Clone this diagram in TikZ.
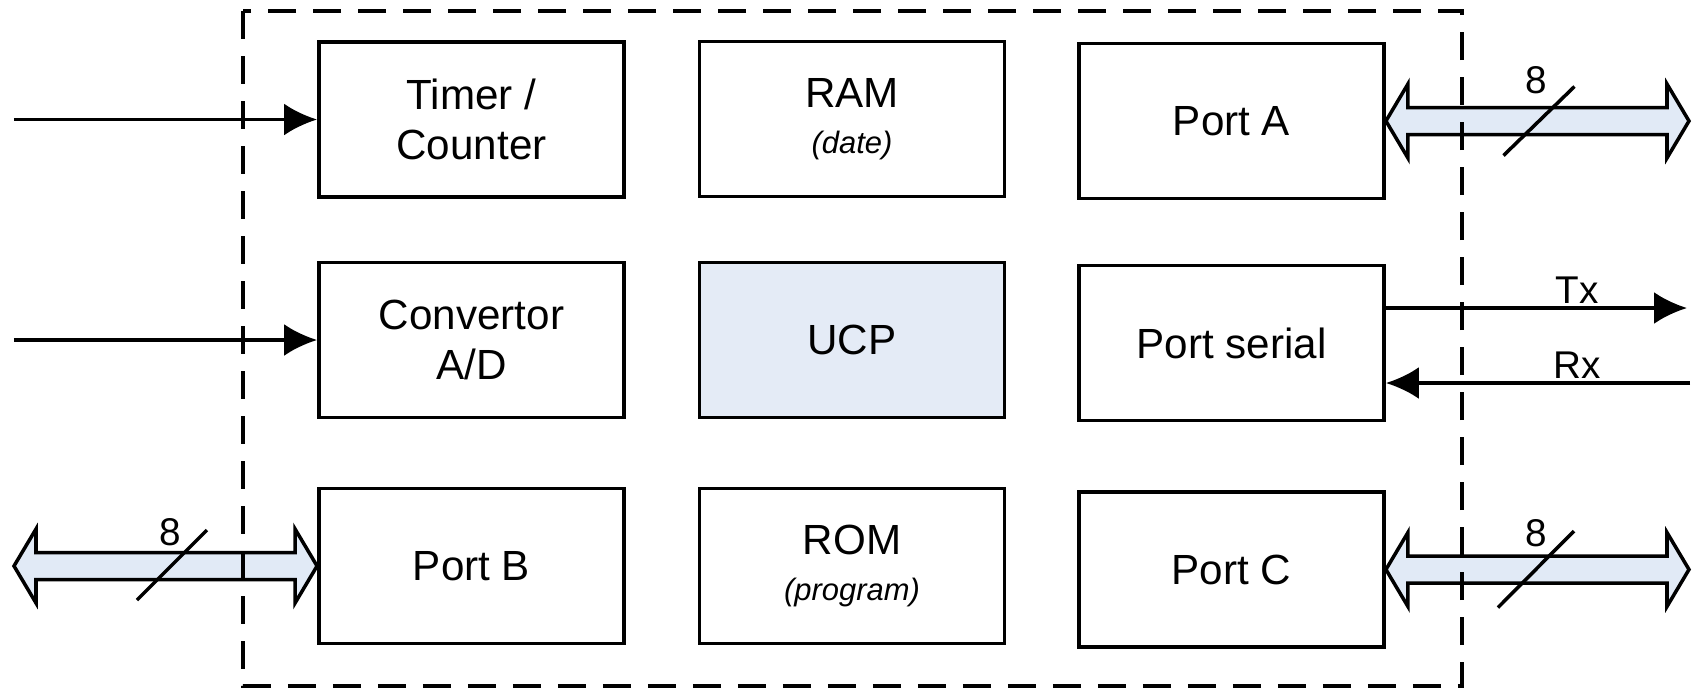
\documentclass[tikz,border=0pt]{standalone}
\usepackage{fontspec}
\setmainfont{Liberation Sans}
\usetikzlibrary{calc,arrows.meta}
\definecolor{ucpblue}{RGB}{228,235,246}
\definecolor{busblue}{RGB}{225,234,246}
\newcommand{\subtxt}{\fontsize{8.8}{10}\selectfont\itshape}
% hollow double bus arrow between two points on one row
\newcommand{\busarrow}[2]{%
  \draw[bus] (#1) -- ++(0.22,0.37) -- ++(0,-0.235) -- ($(#2)+(-0.22,0.135)$)
    -- ++(0,0.235) -- (#2) -- ++(-0.22,-0.37) -- ++(0,0.235)
    -- ($(#1)+(0.22,-0.135)$) -- ++(0,-0.235) -- cycle;}
\tikzset{
  block/.style={rectangle, align=center, draw, line width=1.1pt, minimum width=3.05cm,
    minimum height=1.55cm, inner sep=0pt, font=\fontsize{12}{14.2}\selectfont},
  bus/.style={draw, line width=1pt, fill=busblue, line join=miter},
  wire/.style={->, line width=1pt},
  slash/.style={line width=1pt},
  lbl/.style={font=\fontsize{11}{12}\selectfont, inner sep=0pt}
}
\begin{document}
\begin{tikzpicture}[>={Latex[length=3.3mm,width=3.2mm]}]
\useasboundingbox (0,0) rectangle (16.96,-6.89);
%Nodes:
\node[block] (timer) at (4.715,-1.195) {Timer /\\Counter};
\node[block] (ram) at (8.52,-1.19) {RAM\\[-1pt]{\subtxt (date)}};
\node[block] (porta) at (12.315,-1.21) {Port A};
\node[block] (conv) at (4.715,-3.40) {Convertor\\A/D};
\node[block, fill=ucpblue] (ucp) at (8.52,-3.40) {UCP};
\node[block] (serial) at (12.315,-3.43) {Port serial};
\node[block] (portb) at (4.715,-5.66) {Port B};
\node[block] (rom) at (8.52,-5.66) {ROM\\[-1pt]{\subtxt (program)}};
\node[block] (portc) at (12.315,-5.695) {Port C};
%Free ends:
\coordinate (tin) at (0.14,-1.195);
\coordinate (cin) at (0.14,-3.40);
\coordinate (pa) at (16.89,-1.21);
\coordinate (pb) at (0.14,-5.66);
\coordinate (pc) at (16.89,-5.695);
\coordinate (tx) at (16.87,-3.08);
\coordinate (rx) at (16.90,-3.83);
%Edges:
\draw[wire] (tin) -- (timer.west);
\draw[wire] (cin) -- (conv.west);
\draw[wire] (serial.east |- tx) -- (tx);
\draw[wire] (rx) -- (serial.east |- rx);
\node[lbl] (txl) at (15.77,-2.90) {Tx};
\node[lbl] (rxl) at (15.77,-3.65) {Rx};
%Buses:
\busarrow{porta.east}{pa}
\busarrow{pb}{portb.west}
\busarrow{portc.east}{pc}
\draw[slash] (15.035,-1.555) -- (15.745,-0.865);
\draw[slash] (1.37,-6.00) -- (2.07,-5.30);
\draw[slash] (14.98,-6.075) -- (15.74,-5.31);
\node[lbl] (na) at (15.36,-0.80) {8};
\node[lbl] (nb) at (1.70,-5.32) {8};
\node[lbl] (nc) at (15.36,-5.33) {8};
%Chip border:
\draw[line width=1.2pt, dash pattern=on 0.28cm off 0.17cm] (2.43,-0.11) rectangle (14.62,-6.86);
\end{tikzpicture}
\end{document}
